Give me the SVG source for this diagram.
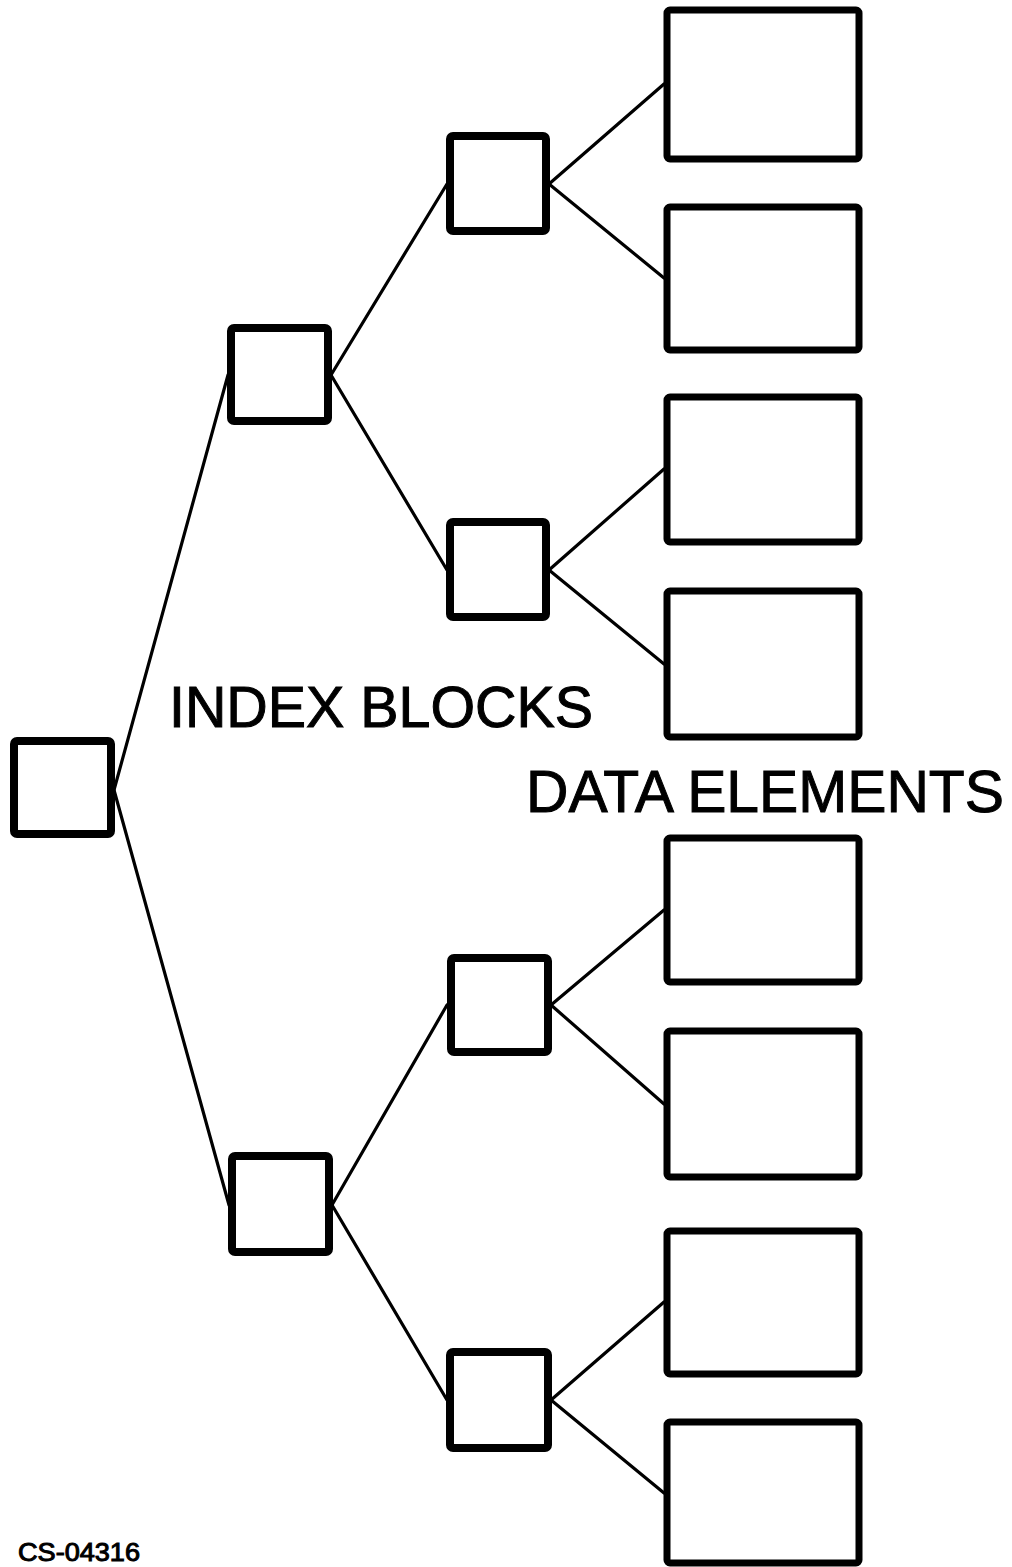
<svg xmlns="http://www.w3.org/2000/svg" width="1012" height="1567" viewBox="0 0 1012 1567">
<style>
.box{fill:#fff;stroke:#000;stroke-width:8;stroke-linejoin:round}
.data{fill:#fff;stroke:#000;stroke-width:7;stroke-linejoin:round}
.conn line{stroke:#000;stroke-width:3.2;stroke-linecap:round}
.lbl{font-family:"Liberation Sans",Arial,Helvetica,sans-serif;fill:#000;stroke:#000;stroke-width:1}
</style>
<rect width="1012" height="1567" fill="#fff"/>
<g class="conn" id="connectors">
<line x1="114" y1="790" x2="228" y2="375"/>
<line x1="114" y1="790" x2="229" y2="1205"/>
<line x1="331" y1="375" x2="447" y2="184"/>
<line x1="331" y1="375" x2="447" y2="570"/>
<line x1="332" y1="1205" x2="447" y2="1005"/>
<line x1="332" y1="1205" x2="447" y2="1400"/>
<line x1="549" y1="184" x2="664" y2="84"/>
<line x1="549" y1="184" x2="664" y2="278"/>
<line x1="549" y1="570" x2="664" y2="469"/>
<line x1="549" y1="570" x2="664" y2="664"/>
<line x1="551" y1="1005" x2="664" y2="910"/>
<line x1="551" y1="1005" x2="664" y2="1104"/>
<line x1="551" y1="1400" x2="664" y2="1302"/>
<line x1="551" y1="1400" x2="664" y2="1493"/>
</g>
<g id="root"><rect class="box" x="14" y="741" width="97" height="93" rx="3"/></g>
<g id="idx1"><rect class="box" x="231" y="328" width="97" height="93" rx="3"/></g>
<g id="idx2"><rect class="box" x="232" y="1156" width="97" height="96" rx="3"/></g>
<g id="idx1a"><rect class="box" x="450" y="136" width="96" height="95" rx="3"/></g>
<g id="idx1b"><rect class="box" x="450" y="522" width="96" height="95" rx="3"/></g>
<g id="idx2a"><rect class="box" x="451" y="958" width="97" height="94" rx="3"/></g>
<g id="idx2b"><rect class="box" x="450" y="1352" width="98" height="96" rx="3"/></g>
<g id="data1"><rect class="data" x="667" y="10" width="192" height="149" rx="3"/></g>
<g id="data2"><rect class="data" x="667" y="207" width="192" height="143" rx="3"/></g>
<g id="data3"><rect class="data" x="667" y="397" width="192" height="145" rx="3"/></g>
<g id="data4"><rect class="data" x="667" y="591" width="192" height="146" rx="3"/></g>
<g id="data5"><rect class="data" x="667" y="838" width="192" height="144" rx="3"/></g>
<g id="data6"><rect class="data" x="667" y="1031" width="192" height="146" rx="3"/></g>
<g id="data7"><rect class="data" x="667" y="1231" width="192" height="143" rx="3"/></g>
<g id="data8"><rect class="data" x="667" y="1422" width="192" height="141" rx="3"/></g>
<text class="lbl" x="169" y="727" font-size="58" textLength="424" lengthAdjust="spacingAndGlyphs">INDEX BLOCKS</text>
<text class="lbl" x="526" y="812" font-size="60" textLength="478" lengthAdjust="spacingAndGlyphs">DATA ELEMENTS</text>
<text class="lbl" x="18" y="1561" font-size="25" stroke-width="0.6" textLength="122" lengthAdjust="spacingAndGlyphs">CS-04316</text>
</svg>
